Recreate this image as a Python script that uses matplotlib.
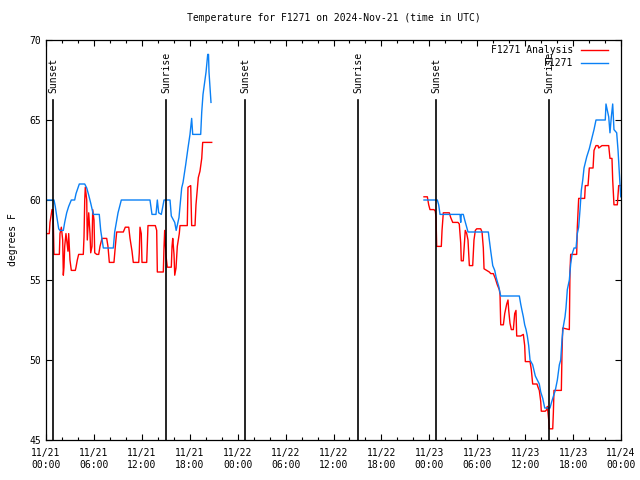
import matplotlib
matplotlib.use('Agg')
import matplotlib.pyplot as plt
import matplotlib.dates as mdates
import pandas as pd

# hours after 2024-11-21 00:00 UTC, temperatures in degrees F
obs1_h = [0.09, 1.0, 1.16, 1.34, 1.59, 1.75, 2.17, 2.34, 2.59, 2.84, 3.17, 3.59, 3.76, 4.17,
          4.85, 5.10, 5.35, 5.60, 5.92, 6.67, 6.85, 7.18, 8.43, 8.60, 9.02, 9.43, 13.02,
          13.27, 13.77, 13.94, 14.11, 14.44, 14.78, 15.53, 15.69, 16.12, 16.3, 16.65, 16.99,
          17.16, 17.49, 17.78, 18.03, 18.24, 18.37, 19.37, 19.50, 19.66, 20.04, 20.25, 20.35,
          20.41, 20.66]
obs1_t = [60.0, 60.0, 59.6, 59.0, 58.2, 58.1, 58.1, 58.6, 59.2, 59.6, 60.0, 60.0, 60.4, 61.0,
          61.0, 60.75, 60.3, 59.8, 59.1, 59.1, 58.1, 57.0, 57.0, 58.0, 59.2, 60.0, 60.0,
          59.1, 59.1, 60.0, 59.2, 59.1, 60.0, 60.0, 59.0, 58.6, 58.1, 58.9, 60.75,
          61.1, 62.2, 63.25, 64.1, 65.1, 64.1, 64.1, 65.5, 66.6, 68.0, 69.1, 69.1,
          68.0, 66.1]

ana1_h = [0.09, 0.41, 0.50, 0.75, 0.88, 1.0, 1.67, 1.75, 1.92, 2.09, 2.17, 2.25, 2.34, 2.50,
          2.75, 2.84, 3.0, 3.17, 3.67, 3.76, 3.92, 4.09, 4.67, 4.76, 4.85, 4.92, 5.10, 5.17,
          5.35, 5.51, 5.60, 5.76, 5.85, 6.01, 6.10, 6.35, 6.60, 6.76, 7.01, 7.60, 7.76, 7.93,
          8.51, 8.68, 8.85, 9.68, 9.93, 10.36, 10.52, 10.77, 10.93, 11.18, 11.61, 11.68,
          11.77, 11.93, 12.02, 12.61, 12.77, 13.69, 13.86, 13.94, 14.69, 14.78, 14.86, 15.03,
          15.19, 15.69, 15.78, 15.87, 16.03, 16.12, 16.28, 16.44, 16.69, 16.78, 17.69, 17.78,
          18.12, 18.24, 18.66, 18.78, 19.07, 19.28, 19.50, 19.62, 20.75]
ana1_t = [57.9, 57.9, 58.6, 59.4, 59.4, 56.6, 56.6, 57.9, 58.3, 57.5, 55.3, 55.8, 57.1, 57.9,
          56.8, 57.9, 56.25, 55.6, 55.6, 55.8, 56.25, 56.6, 56.6, 57.7, 60.0, 60.8, 60.0, 57.5,
          59.2, 57.9, 56.7, 57.1, 59.4, 58.75, 56.7, 56.6, 56.6, 57.1, 57.6, 57.6, 57.1, 56.1,
          56.1, 57.1, 58.0, 58.0, 58.3, 58.3, 57.6, 56.8, 56.1, 56.1, 56.1, 56.7,
          58.3, 57.9, 56.1, 56.1, 58.4, 58.4, 58.1, 55.5, 55.5, 57.1, 58.1, 56.5,
          55.8, 55.8, 57.1, 57.6, 56.6, 55.3, 55.75, 57.1, 57.9, 58.4, 58.4, 60.8,
          60.9, 58.4, 58.4, 59.7, 61.4, 61.8, 62.6, 63.6, 63.6]

obs2_h = [47.33, 49.0, 49.17, 49.34, 51.84, 51.93, 52.0, 52.25, 52.43, 52.68, 52.84, 55.39,
          55.51, 55.69, 55.94, 56.19, 56.35, 56.51, 56.69, 56.85, 56.94, 59.27, 59.44, 59.60,
          59.77, 59.94, 60.11, 60.27, 60.44, 60.61, 60.94, 61.27, 61.77, 61.95, 62.20, 62.45,
          63.11, 63.27, 63.45, 63.77, 64.03, 64.28, 64.45, 64.61, 64.78, 64.99, 65.11, 65.28,
          65.53, 65.70, 65.87, 66.12, 66.37, 66.53, 66.70, 66.87, 67.03, 67.21, 67.37, 67.71,
          68.03, 68.37, 68.62, 68.87, 70.03, 70.12, 70.29, 70.46, 70.62, 70.79, 70.96, 71.12,
          71.46, 71.63, 71.79, 71.97]
obs2_t = [60.0, 60.0, 59.7, 59.1, 59.1, 58.6, 59.1, 59.1, 58.75, 58.3, 58.0, 58.0,
          57.5, 56.8, 55.9, 55.6, 55.2, 54.9, 54.6, 54.2, 54.0, 54.0, 53.5, 53.1,
          52.7, 52.2, 51.9, 51.5, 50.9, 50.0, 49.7, 49.0, 48.5, 48.0, 47.6, 47.0,
          47.0, 47.3, 47.6, 48.1, 48.75, 49.7, 50.0, 51.25, 52.1, 52.7, 53.25, 54.4,
          55.0, 56.0, 56.6, 57.0, 57.0, 57.9, 58.3, 59.4, 60.6, 61.25, 62.0, 62.7,
          63.2, 63.9, 64.4, 65.0, 65.0, 66.0, 65.6, 65.2, 64.2, 65.2, 66.0, 64.4,
          64.2, 63.1, 61.7, 60.2]

ana2_h = [47.33, 47.75, 47.92, 48.08, 48.58, 48.75, 48.84, 48.92, 49.50, 49.59, 49.75, 50.50,
          50.68, 50.93, 51.59, 51.75, 51.93, 52.0, 52.25, 52.34, 52.50, 52.68, 52.84, 53.01,
          53.43, 53.59, 53.76, 53.93, 54.43, 54.60, 54.76, 54.85, 55.18, 55.51, 55.69, 56.01,
          56.26, 56.51, 56.76, 56.85, 56.94, 57.27, 57.44, 57.69, 57.85, 57.94, 58.10, 58.27,
          58.52, 58.69, 58.85, 58.94, 59.44, 59.77, 59.94, 60.02, 60.61, 60.77, 60.94, 61.48,
          61.61, 61.77, 61.95, 62.02, 62.52, 62.70, 62.78, 62.95, 63.02, 63.45, 63.53, 63.61,
          64.53, 64.61, 64.70, 65.53, 65.61, 65.70, 66.45, 66.53, 66.70, 67.45, 67.53, 67.87,
          68.03, 68.50, 68.62, 68.87, 69.12, 69.21, 69.62, 70.46, 70.62, 70.87, 70.96, 71.12,
          71.54, 71.71, 72.0]
ana2_t = [60.2, 60.2, 59.7, 59.4, 59.4, 59.3, 58.9, 57.1, 57.1, 58.1, 59.2, 59.2,
          58.9, 58.6, 58.6, 58.5, 57.3, 56.2, 56.2, 56.9, 58.1, 57.9, 57.5, 55.9,
          55.9, 57.5, 58.1, 58.2, 58.2, 58.0, 57.0, 55.7, 55.6, 55.5, 55.4, 55.4,
          55.1, 54.7, 54.4, 54.1, 52.2, 52.2, 52.9, 53.5, 53.75, 53.1, 52.3, 51.9,
          51.9, 52.9, 53.1, 51.5, 51.5, 51.6, 50.9, 49.9, 49.9, 49.4, 48.5, 48.5,
          48.3, 48.1, 47.4, 46.8, 46.8, 46.9, 47.1, 46.25, 45.7, 45.7, 46.7, 48.1,
          48.1, 50.4, 52.0, 51.9, 55.5, 56.6, 56.6, 58.3, 60.1, 60.1, 60.9, 60.9,
          62.0, 62.0, 63.1, 63.4, 63.4, 63.25, 63.4, 63.4, 62.6, 62.6, 61.25, 59.7,
          59.7, 60.9, 60.9]

event_h = [0.88, 15.03, 24.92, 39.07, 48.84, 62.99]
event_names = ['Sunset', 'Sunrise', 'Sunset', 'Sunrise', 'Sunset', 'Sunrise']

base = pd.Timestamp('2024-11-21 00:00')


def to_time(hours):
    return base + pd.to_timedelta(hours, unit='h')


mono = 'DejaVu Sans Mono'
plt.rcParams['font.family'] = mono
plt.rcParams['font.size'] = 7

fig = plt.figure(figsize=(6.4, 4.8), dpi=100)
ax = fig.add_axes([46 / 640, 40 / 480, 575 / 640, 400 / 480])

red = '#ff0000'
blue = '#0a80f5'
ax.plot(to_time(ana1_h), ana1_t, color=red, lw=1.0)
ax.plot(to_time(ana2_h), ana2_t, color=red, lw=1.0)
ax.plot(to_time(obs1_h), obs1_t, color=blue, lw=1.0)
ax.plot(to_time(obs2_h), obs2_t, color=blue, lw=1.0)

# sunrise / sunset markers
for h, name in zip(event_h, event_names):
    t = to_time(h)
    ax.plot([t, t], [45, 66.25], color='black', lw=1.2)
    ax.text(t, 66.7, name, rotation=90, ha='center', va='bottom', fontsize=7)

ax.set_xlim(base, base + pd.Timedelta(hours=72))
ax.set_ylim(45, 70)
ax.set_yticks(range(45, 71, 5))
ax.xaxis.set_major_locator(mdates.HourLocator(byhour=[0, 6, 12, 18]))
ax.xaxis.set_minor_locator(mdates.HourLocator(byhour=range(0, 24, 2)))
ax.xaxis.set_major_formatter(mdates.DateFormatter('%m/%d\n%H:%M'))
ax.tick_params(which='both', direction='in', top=True, right=True, labelsize=7)
ax.tick_params(which='major', length=4.5, width=0.8)
ax.tick_params(which='minor', length=2.5, width=0.8)
ax.tick_params(axis='x', pad=6)
for s in ax.spines.values():
    s.set_linewidth(0.9)

ax.set_ylabel('degrees F', fontsize=7, labelpad=8)
ax.set_title('Temperature for F1271 on 2024-Nov-21 (time in UTC)', fontsize=7, pad=14)

# gnuplot-style key, top right
ax.text(0.917, 0.975, 'F1271 Analysis', transform=ax.transAxes, ha='right', va='center')
ax.plot([0.931, 0.978], [0.975, 0.975], transform=ax.transAxes, color=red, lw=1.0)
ax.text(0.917, 0.943, 'F1271', transform=ax.transAxes, ha='right', va='center')
ax.plot([0.931, 0.978], [0.943, 0.943], transform=ax.transAxes, color=blue, lw=1.0)

fig.savefig('out.png', dpi=100)
